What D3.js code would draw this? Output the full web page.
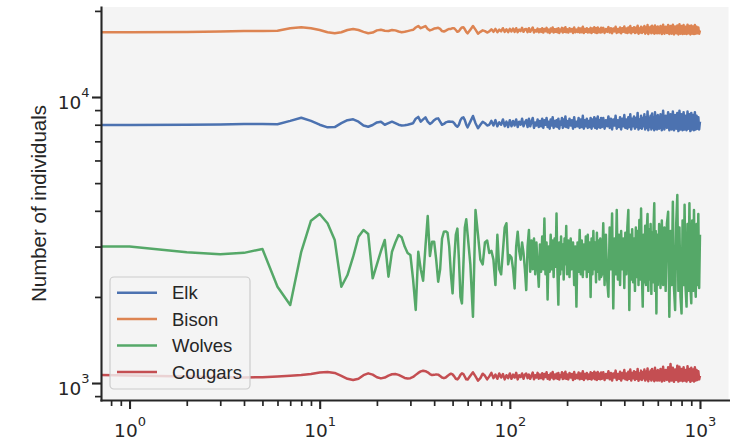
<!DOCTYPE html>
<html><head><meta charset="utf-8">
<script src="https://cdn.jsdelivr.net/npm/d3@7"></script>
<style>html,body{margin:0;padding:0;background:#fff;} svg{display:block;}</style>
</head><body><svg id="chart" width="730" height="440"></svg>
<script>
const seriesNames = ["Elk", "Bison", "Wolves", "Cougars"];
const seriesColors = ["#4C72B0", "#DD8452", "#55A868", "#C44E52"];

const xs = [0,1,2,3,4,5,6,7,8,9,10,11,12,13,14,15,16,17,18,19,20,21,22,23,24,25,26,27,28,29,30,
31,32,33,34,35,36,37,38,39,40,41,42,43,44,45,46,47,48,49,50,51,52,53,54,55,56,57,58,59,60,
62,64,66,68,70,72,74,76,78,80,82,84,86,88,90,92,94,96,98,100,102,104,106,108,110,112,114,116,118,120,
122,124,126,128,130,132,134,136,138,140,142,144,146,148,150,152,154,156,158,160,
162,164,166,168,170,172,174,176,178,180,182,184,186,188,190,192,194,196,198,200,
203,206,209,212,215,218,221,224,227,230,233,236,239,242,245,248,251,254,257,260,
263,266,269,272,275,278,281,284,287,290,293,296,299,302,
305,310,315,320,325,330,335,340,345,350,355,360,365,370,375,380,385,390,395,400,405,410,415,420,425,430,
435,440,445,450,455,460,465,470,475,480,485,490,495,500,505,510,515,520,525,530,535,540,545,550,555,560,
565,570,575,580,585,590,595,600,
610,620,630,640,650,660,670,680,690,700,710,720,730,740,750,760,770,780,790,800,810,820,830,840,850,860,
870,880,890,900,910,920,930,940,950,960,970,980,990,1000];

const elk = [7980,7990,8000,8020,8040,8040,8030,8250,8465,8250,8000,7834,7850,8100,8300,8356,8200,7950,7870,7980,
8150,8197,8000,8100,8197,8100,8000,7950,7970,8000,8050,8100,8400,8520,8197,8350,8490,8200,8050,8150,
8300,8400,8420,8200,8000,8050,8150,8190,8210,8200,8197,8100,7950,7870,8000,8300,8450,8490,8300,8000,7834,
8200,8583,8100,7780,8000,8197,8100,7950,8000,8250,7950,8300,7900,8150,8000,8350,7900,8200,7850,8300,
7900,8250,7950,8350,7850,8200,8000,8400,7900,8150,
8300,7850,8400,7900,8200,8450,7800,8150,7950,8350,7850,8250,7900,8400,7800,8300,8000,8450,7850,8200,
7750,8350,7950,8500,7800,8250,7900,8300,7850,8400,7750,8200,8000,8450,7800,8350,7900,8550,7850,8250,
7800,8400,7950,8300,7750,8500,7850,8200,7900,8450,7800,8350,7850,8600,7750,8300,7900,8400,7800,8250,
7850,8450,7750,8350,7900,8500,7800,8400,7750,8550,7850,8300,7800,8450,
7850,8450,7750,8300,7900,8550,7800,8400,7700,8350,7950,8600,7750,8300,7850,8500,7700,8400,7900,8650,
7800,8350,7750,8500,7850,8700,7700,8400,7900,8550,7750,8450,7850,8800,7700,8350,7800,8600,7750,8450,
7900,8700,7700,8500,7800,8900,7650,8450,7850,8600,7700,8750,7800,8500,7650,8850,7750,8550,7700,8650,
7750,8700,7650,8950,7700,8600,7800,8850,7650,8700,7700,8900,7650,8650,7750,8800,7600,8950,7700,8700,
7650,8850,7700,8600,7650,8900,7750,8700,7600,8800,7700,8650,7650,8850,7700,8600,7750,8500,7700,8200];

const bison = [16840,16850,16870,16950,17000,17020,17050,17400,17530,17400,17150,16850,16700,16850,17150,17290,17150,16900,16700,16800,
17100,17175,17050,17015,17150,17100,16950,16850,16900,17000,17100,17175,17500,17715,17400,17550,17700,17300,17100,17200,
17350,17400,17450,17300,17000,16950,17050,17200,17300,17300,17400,17400,17150,16900,17000,17300,17500,17530,17250,16900,16700,
17200,17700,17200,16650,16900,17100,17000,16800,16950,17250,16900,17300,16850,17200,16950,17400,16900,17250,16850,17300,
16950,17350,16900,17400,16850,17200,17000,17450,16900,17250,
17300,16850,17400,16900,17200,17500,16800,17150,16950,17350,16850,17250,16900,17400,16800,17300,17000,17450,16850,17200,
16750,17350,16950,17500,16800,17250,16900,17300,16850,17400,16750,17200,17000,17450,16800,17350,16900,17550,16850,17250,
16800,17400,16950,17300,16750,17500,16850,17200,16900,17450,16800,17350,16850,17600,16750,17300,16900,17400,16800,17250,
16850,17450,16750,17350,16900,17550,16800,17400,16750,17500,16850,17300,16800,17450,
16850,17450,16750,17300,16900,17550,16800,17400,16700,17350,16950,17600,16750,17300,16850,17500,16700,17400,16900,17650,
16800,17350,16750,17500,16850,17700,16700,17400,16900,17550,16750,17450,16850,17750,16650,17350,16800,17600,16750,17450,
16900,17700,16650,17500,16800,17850,16600,17450,16850,17600,16700,17750,16800,17500,16650,17800,16750,17550,16700,17650,
16700,17700,16600,17900,16650,17600,16750,17850,16600,17700,16650,17900,16550,17650,16700,17800,16550,17950,16650,17700,
16600,17850,16650,17600,16600,17900,16700,17700,16550,17800,16650,17650,16600,17850,16650,17600,16700,17500,16650,17100];

const wolves = [3000,3000,2864,2818,2852,2942,2171,1874,2877,3694,3899,3618,3162,2171,2386,2764,3248,3427,3319,2323,
2600,2894,3162,2354,2878,3100,3292,3231,3000,2850,2803,2300,1800,2878,2500,2279,3000,3837,2780,3120,
3120,2700,2261,2500,3200,3380,3390,3360,3000,2400,2058,2700,3300,3467,2700,2000,1899,2600,3500,3735,3300,
2600,1706,4024,3300,2700,2600,3100,3150,2850,2900,2700,2200,3300,2500,2400,2900,3500,3619,2600,2800,
2750,2500,2142,3000,3382,2900,2700,3100,2850,2500,
2114,3000,3427,2450,3150,2500,3200,2400,3100,2550,2171,3050,2450,3250,2500,3763,2400,3100,1960,3000,
2450,3300,2500,3150,2350,3200,2550,3914,2450,1880,3100,2400,3250,2500,3050,2300,3200,2600,3540,2400,
3150,2350,3200,2500,3100,2200,3000,1850,3100,2450,3430,2400,3150,2350,3050,2500,3250,2350,3300,2450,
3100,2000,3200,2400,3400,2500,3100,2250,3350,2450,3150,2300,3200,2350,
2400,3619,2200,3300,2300,2003,3500,2500,3914,1824,3200,2400,4024,2300,3300,2200,3400,2500,3200,2150,
3350,2400,3500,4024,1800,3300,2300,3450,2250,3200,2100,3500,2350,3400,2200,3714,2300,4075,2400,1850,
3300,2250,3550,2200,3400,3900,2100,3450,2300,3600,2050,3350,2250,3500,4250,2100,3400,1752,3300,2200,
3600,2150,3700,2200,3500,2100,3600,3970,1706,3400,2200,4300,2150,1800,3600,4540,2100,3500,2000,1752,
3700,2200,4200,2150,1850,3600,2100,4250,2200,1900,3700,2100,4024,2300,2003,3600,2200,3900,2150,3300];

const cougars = [1066,1062,1055,1048,1045,1048,1055,1060,1066,1075,1088,1093,1085,1060,1035,1024,1035,1065,1081,1070,
1048,1038,1045,1062,1073,1075,1068,1055,1042,1038,1040,1050,1068,1085,1098,1104,1100,1090,1075,1066,
1068,1072,1070,1058,1045,1040,1045,1058,1070,1078,1072,1055,1035,1030,1045,1068,1082,1075,1052,1030,1028,
1060,1090,1055,1020,1040,1078,1060,1030,1055,1085,1040,1070,1035,1080,1045,1075,1030,1065,1040,1080,
1035,1070,1045,1085,1030,1065,1050,1080,1035,1070,
1080,1040,1070,1035,1060,1088,1030,1065,1045,1085,1035,1070,1040,1082,1030,1075,1050,1090,1035,1065,
1028,1080,1045,1092,1032,1070,1040,1078,1035,1085,1028,1065,1050,1090,1032,1080,1040,1095,1035,1072,
1030,1085,1045,1075,1025,1092,1035,1068,1040,1088,1030,1080,1035,1100,1025,1075,1040,1085,1030,1070,
1035,1090,1028,1082,1040,1095,1030,1085,1025,1092,1035,1078,1030,1088,
1035,1090,1025,1075,1040,1100,1030,1085,1020,1080,1045,1105,1025,1075,1035,1095,1020,1085,1040,1110,
1030,1080,1025,1095,1035,1115,1020,1085,1040,1100,1025,1090,1035,1120,1018,1080,1030,1105,1025,1090,
1040,1115,1020,1095,1030,1125,1015,1090,1035,1105,1020,1120,1030,1095,1015,1130,1025,1100,1020,1110,
1020,1120,1012,1140,1018,1110,1025,1135,1012,1165,1020,1130,1010,1115,1025,1150,1012,1140,1020,1120,
1015,1135,1020,1110,1012,1145,1025,1120,1010,1130,1020,1115,1012,1135,1020,1110,1025,1100,1030,1060];

const xMajorTicks = [1, 10, 100, 1000];
const xMajorExponents = ["0", "1", "2", "3"];
const xMinorTicks = [0.8,0.9,2,3,4,5,6,7,8,9,20,30,40,50,60,70,80,90,200,300,400,500,600,700,800,900];
const yMajorTicks = [1000, 10000];
const yMajorExponents = ["3", "4"];
const yMinorTicks = [900,2000,3000,4000,5000,6000,7000,8000,9000,20000];
const yLabel = "Number of individuals";

const seriesValues = [elk, bison, wolves, cougars];

const svg = d3.select("#chart");
const plotL = 101, plotR = 728.5, plotT = 7, plotB = 400;
const ink = "#262626";

const x = d3.scaleLog().domain([Math.pow(10, -0.15), Math.pow(10, 3.15)]).range([plotL, plotR]).clamp(true);
const y = d3.scaleLog().domain([872.3, 20640]).range([plotB, plotT]);

svg.append("rect").attr("x", 0).attr("y", 0).attr("width", 730).attr("height", 440).attr("fill", "#ffffff");
svg.append("rect").attr("x", plotL).attr("y", plotT).attr("width", plotR - plotL).attr("height", plotB - plotT).attr("fill", "#f4f4f4");

svg.append("clipPath").attr("id", "plotclip").append("rect")
  .attr("x", plotL).attr("y", plotT).attr("width", plotR - plotL).attr("height", plotB - plotT);

const line = d3.line().x(d => x(d[0])).y(d => y(d[1]));
const linesG = svg.append("g").attr("clip-path", "url(#plotclip)");
seriesValues.forEach((vals, i) => {
  const n = Math.min(xs.length, vals.length);
  const pts = d3.range(n).map(k => [xs[k], vals[k]]);
  linesG.append("path").datum(pts)
    .attr("d", line)
    .attr("fill", "none")
    .attr("stroke", seriesColors[i])
    .attr("stroke-width", 2.5)
    .attr("stroke-linejoin", "round")
    .attr("stroke-linecap", "butt");
});

// minor ticks
const yMinorAxis = d3.axisLeft(y).tickValues(yMinorTicks).tickSize(6).tickSizeOuter(0).tickFormat(() => "");
const gyMin = svg.append("g").attr("transform", `translate(${plotL},0)`).call(yMinorAxis);
gyMin.select(".domain").remove();
gyMin.selectAll(".tick line").attr("stroke", ink).attr("stroke-width", 1.7);

const xMinorAxis = d3.axisBottom(x).tickValues(xMinorTicks).tickSize(6).tickSizeOuter(0).tickFormat(() => "");
const gxMin = svg.append("g").attr("transform", `translate(0,${plotB})`).call(xMinorAxis);
gxMin.select(".domain").remove();
gxMin.selectAll(".tick line").attr("stroke", ink).attr("stroke-width", 1.7);

// major axes
const yAxis = d3.axisLeft(y).tickValues(yMajorTicks).tickSize(9).tickSizeOuter(0).tickFormat(() => "");
const gy = svg.append("g").attr("transform", `translate(${plotL},0)`).call(yAxis);
gy.select(".domain").attr("stroke", ink).attr("stroke-width", 2.1).attr("stroke-linecap", "square");
gy.selectAll(".tick line").attr("stroke", ink).attr("stroke-width", 2.1);
gy.selectAll(".tick text").remove();
gy.selectAll(".tick").each(function(d, i) {
  const t = d3.select(this).append("text")
    .attr("x", -11.5).attr("y", 11)
    .attr("text-anchor", "end")
    .attr("fill", ink)
    .attr("font-family", "DejaVu Sans")
    .attr("font-size", 18.5);
  t.append("tspan").text("10");
  t.append("tspan").attr("font-size", 13).attr("dy", -11.5).text(yMajorExponents[i]);
});

const xAxis = d3.axisBottom(x).tickValues(xMajorTicks).tickSize(9).tickSizeOuter(0).tickFormat(() => "");
const gx = svg.append("g").attr("transform", `translate(0,${plotB})`).call(xAxis);
gx.select(".domain").attr("stroke", ink).attr("stroke-width", 2.1).attr("stroke-linecap", "square");
gx.selectAll(".tick line").attr("stroke", ink).attr("stroke-width", 2.1);
gx.selectAll(".tick text").remove();
gx.selectAll(".tick").each(function(d, i) {
  const t = d3.select(this).append("text")
    .attr("x", 0).attr("y", 37)
    .attr("text-anchor", "middle")
    .attr("fill", ink)
    .attr("font-family", "DejaVu Sans")
    .attr("font-size", 18.5);
  t.append("tspan").text("10");
  t.append("tspan").attr("font-size", 13).attr("dy", -11.5).text(xMajorExponents[i]);
});

// y label
svg.append("text")
  .attr("transform", `translate(45.5,${(plotT + plotB) / 2}) rotate(-90)`)
  .attr("text-anchor", "middle")
  .attr("fill", ink)
  .attr("font-family", "Liberation Sans, Arial, sans-serif")
  .attr("font-size", 20.5)
  .text(yLabel);

// legend
const lg = svg.append("g");
lg.append("rect")
  .attr("x", 110).attr("y", 277).attr("width", 140).attr("height", 112).attr("rx", 4)
  .attr("fill", "#f4f4f4").attr("fill-opacity", 0.8)
  .attr("stroke", "#cccccc").attr("stroke-width", 1.2);
seriesNames.forEach((name, i) => {
  const cy = 292.7 + i * 26.4;
  lg.append("line").attr("x1", 117).attr("x2", 157).attr("y1", cy).attr("y2", cy)
    .attr("stroke", seriesColors[i]).attr("stroke-width", 2.5);
  lg.append("text").attr("x", 172).attr("y", cy + 6.6)
    .attr("fill", ink)
    .attr("font-family", "Liberation Sans, Arial, sans-serif")
    .attr("font-size", 18.5)
    .text(name);
});
</script>
</body></html>
